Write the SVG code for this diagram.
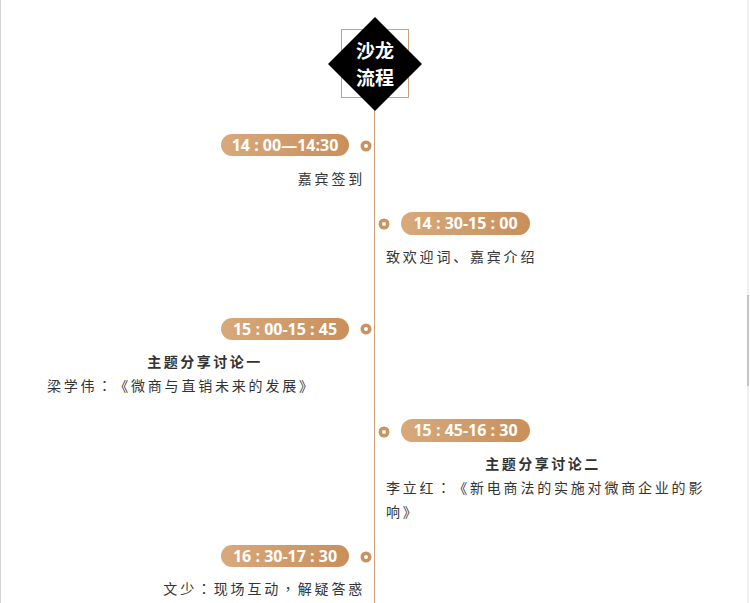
<svg xmlns="http://www.w3.org/2000/svg" width="750" height="603" viewBox="0 0 750 603">
<defs>
<linearGradient id="pg" x1="0" y1="0" x2="1" y2="0">
<stop offset="0" stop-color="#d8a97b"/>
<stop offset="1" stop-color="#c98f5b"/>
</linearGradient>
</defs>
<style>
.pill{fill:url(#pg)}
.pt{font-family:"Open Sans","Liberation Sans",sans-serif;font-weight:bold;font-size:16px;fill:#fff;text-anchor:middle}
.dot{fill:#c8935f}
.din{fill:#fff}
.tx{font-family:"Noto Sans CJK SC","Liberation Sans",sans-serif;font-size:14px;fill:#333;letter-spacing:2.8px;text-spacing-trim:space-all}
.c{font-family:"Noto Sans CJK TC",sans-serif}
.hd{font-family:"Noto Sans CJK SC","Liberation Sans",sans-serif;font-size:14px;font-weight:bold;fill:#333;letter-spacing:2.5px;text-anchor:middle}
.ttl{font-family:"Noto Sans CJK SC","Liberation Sans",sans-serif;font-size:19px;font-weight:bold;fill:#fff;text-anchor:middle}
</style>
<rect width="750" height="603" fill="#fff"/>
<line x1="0.5" y1="0" x2="0.5" y2="603" stroke="#d4d4d4" stroke-width="1"/>
<line x1="748" y1="0" x2="748" y2="603" stroke="#efefef" stroke-width="2"/>
<line x1="748" y1="295" x2="748" y2="386" stroke="#c4c4c4" stroke-width="2"/>
<g id="connectors">
<line x1="374.5" y1="100" x2="374.5" y2="603" stroke="#c9a27c" stroke-width="1"/>
</g>
<g id="title">
<rect x="341.5" y="29.5" width="67" height="68" fill="none" stroke="#c9a27c" stroke-width="1"/>
<polygon points="375,17 422,64 375,111 328,64" fill="#000"/>
<text class="ttl" x="375" y="58">沙龙</text>
<text class="ttl" x="375" y="85">流程</text>
</g>
<g id="n1">
<rect class="pill" x="221" y="134" width="128" height="22" rx="11"/>
<text class="pt" x="285" y="150.5">14 : 00—14:30</text>
<circle class="dot" cx="366" cy="146" r="5.5"/><circle class="din" cx="366" cy="146" r="2"/>
<text class="tx" x="365" y="184" text-anchor="end">嘉宾签到</text>
</g>
<g id="n2">
<rect class="pill" x="401" y="212" width="129" height="23" rx="11.5"/>
<text class="pt" x="465.5" y="229">14 : 30-15 : 00</text>
<circle class="dot" cx="384" cy="224" r="5.5"/><circle class="din" cx="384" cy="224" r="2"/>
<text class="tx" x="386" y="262">致欢迎词、嘉宾介绍</text>
</g>
<g id="n3">
<rect class="pill" x="221" y="318" width="128" height="22" rx="11"/>
<text class="pt" x="285" y="334.5">15 : 00-15 : 45</text>
<circle class="dot" cx="366" cy="329" r="5.5"/><circle class="din" cx="366" cy="329" r="2"/>
<text class="hd" x="205" y="367">主题分享讨论一</text>
<text class="tx" x="47" y="391">梁学伟<tspan class="c">：</tspan>《微商与直销未来的发展》</text>
</g>
<g id="n4">
<rect class="pill" x="401" y="419" width="129" height="23" rx="11.5"/>
<text class="pt" x="465.5" y="436">15 : 45-16 : 30</text>
<circle class="dot" cx="384" cy="432" r="5.5"/><circle class="din" cx="384" cy="432" r="2"/>
<text class="hd" x="543" y="469">主题分享讨论二</text>
<text class="tx" x="386" y="493">李立红<tspan class="c">：</tspan>《新电商法的实施对微商企业的影</text>
<text class="tx" x="386" y="517">响》</text>
</g>
<g id="n5">
<rect class="pill" x="221" y="545" width="128" height="22" rx="11"/>
<text class="pt" x="285" y="561.5">16 : 30-17 : 30</text>
<circle class="dot" cx="366" cy="557" r="5.5"/><circle class="din" cx="366" cy="557" r="2"/>
<text class="tx" x="365" y="594" text-anchor="end">文少<tspan class="c">：</tspan>现场互动<tspan class="c">，</tspan>解疑答惑</text>
</g>
</svg>
